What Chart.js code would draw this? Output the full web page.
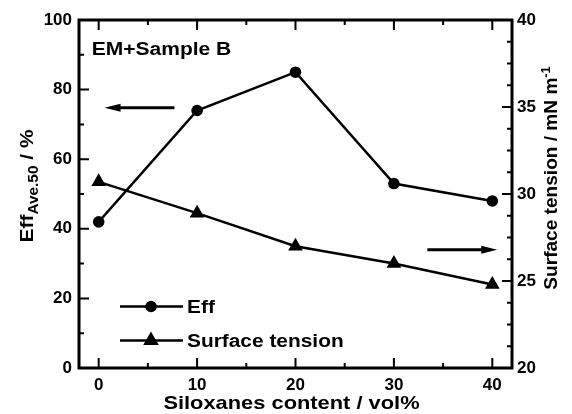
<!DOCTYPE html>
<html>
<head>
<meta charset="utf-8">
<script src="https://cdn.jsdelivr.net/npm/chart.js@4/dist/chart.umd.min.js"></script>
<style>
  body { margin: 0; background: #fff; }
  canvas { display: block; }
</style>
</head>
<body>
<canvas id="chart" width="572" height="414"></canvas>
<script>
// Siloxanes content (vol%) and the two measured series
const content = [0, 10, 20, 30, 40];
const effAve50 = [42, 74, 85, 53, 48];
const surfaceTension = [30.7, 28.9, 27.0, 26.0, 24.8];

// tick values for the three axes
const xTicks = [0, 10, 20, 30, 40];
const xMinor = [5, 15, 25, 35];
const effTicks = [0, 20, 40, 60, 80, 100];
const effMinor = [10, 30, 50, 70, 90];
const tensionTicks = [20, 25, 30, 35, 40];
const tensionMinor = [21.25, 22.5, 23.75, 26.25, 27.5, 28.75, 31.25, 32.5, 33.75, 36.25, 37.5, 38.75];

const FONT = 'Arial, "Liberation Sans", sans-serif';

// draw a row of text runs (for sub/superscripts), optionally rotated and widened
function drawRuns(ctx, runs, x, y, angle, sx, align) {
  ctx.save();
  ctx.translate(x, y);
  ctx.rotate(angle);
  ctx.scale(sx, 1);
  ctx.fillStyle = '#000';
  ctx.textBaseline = 'alphabetic';
  ctx.textAlign = 'left';
  let total = 0;
  runs.forEach(r => {
    ctx.font = 'bold ' + r.size + 'px ' + FONT;
    r.w = ctx.measureText(r.text).width;
    total += r.w;
  });
  let cx = align === 'center' ? -total / 2 : 0;
  runs.forEach(r => {
    ctx.font = 'bold ' + r.size + 'px ' + FONT;
    ctx.fillText(r.text, cx, r.dy || 0);
    cx += r.w;
  });
  ctx.restore();
}

function arrow(ctx, x1, y1, x2, y2) {
  const dir = Math.sign(x2 - x1);
  ctx.beginPath();
  ctx.moveTo(x1, y1);
  ctx.lineTo(x2 - dir * 10, y2);
  ctx.stroke();
  ctx.beginPath();
  ctx.moveTo(x2, y2);
  ctx.lineTo(x2 - dir * 16, y2 - 4);
  ctx.lineTo(x2 - dir * 16, y2 + 4);
  ctx.closePath();
  ctx.fill();
}

const framePlugin = {
  id: 'frame',
  beforeDatasetsDraw(chart) {
    const ctx = chart.ctx;
    const a = chart.chartArea;
    const sx = chart.scales.x, sy = chart.scales.y, sy2 = chart.scales.y2;
    ctx.save();
    ctx.strokeStyle = '#000';
    ctx.lineWidth = 3;
    ctx.strokeRect(a.left, a.top, a.right - a.left, a.bottom - a.top);
    ctx.lineWidth = 2;
    ctx.beginPath();
    // inward ticks, bottom and top
    const xt = (v, len) => {
      const p = sx.getPixelForValue(v);
      ctx.moveTo(p, a.bottom); ctx.lineTo(p, a.bottom - len);
      ctx.moveTo(p, a.top); ctx.lineTo(p, a.top + len);
    };
    xTicks.forEach(v => xt(v, 10));
    xMinor.forEach(v => xt(v, 5));
    // left axis
    const yt = (v, len) => {
      const p = sy.getPixelForValue(v);
      ctx.moveTo(a.left, p); ctx.lineTo(a.left + len, p);
    };
    effTicks.forEach(v => yt(v, 10));
    effMinor.forEach(v => yt(v, 5));
    // right axis
    const y2t = (v, len) => {
      const p = sy2.getPixelForValue(v);
      ctx.moveTo(a.right, p); ctx.lineTo(a.right - len, p);
    };
    tensionTicks.forEach(v => y2t(v, 10));
    tensionMinor.forEach(v => y2t(v, 5));
    ctx.stroke();
    ctx.restore();
  },
  afterDraw(chart) {
    const ctx = chart.ctx;
    const a = chart.chartArea;
    const sx = chart.scales.x, sy = chart.scales.y, sy2 = chart.scales.y2;
    ctx.save();
    ctx.strokeStyle = '#000';
    ctx.fillStyle = '#000';
    ctx.lineWidth = 3;

    // arrows pointing to each series' axis
    arrow(ctx, sx.getPixelForValue(7.7), sy.getPixelForValue(74.8),
               sx.getPixelForValue(0.6), sy.getPixelForValue(74.8));
    arrow(ctx, sx.getPixelForValue(33.4), sy2.getPixelForValue(26.8),
               sx.getPixelForValue(40.5), sy2.getPixelForValue(26.8));

    // sample label
    drawRuns(ctx, [{ text: 'EM+Sample B', size: 17.5 }],
      sx.getPixelForValue(-0.7), sy.getPixelForValue(90), 0, 1.2, 'left');

    // legend
    const items = [
      { label: 'Eff', style: 'circle', r: 4.5, y: a.bottom - 61.5 },
      { label: 'Surface tension', style: 'triangle', r: 6.5, y: a.bottom - 27.5 }
    ];
    items.forEach(it => {
      ctx.lineWidth = 2.5;
      ctx.beginPath();
      ctx.moveTo(a.left + 41, it.y);
      ctx.lineTo(a.left + 104, it.y);
      ctx.stroke();
      Chart.helpers.drawPoint(ctx, { pointStyle: it.style, radius: it.r, borderWidth: 1 },
        a.left + 72, it.y);
      ctx.fill();
      drawRuns(ctx, [{ text: it.label, size: 18 }], a.left + 108, it.y + 6.5, 0, 1.16, 'left');
    });

    // axis titles
    drawRuns(ctx, [{ text: 'Siloxanes content / vol%', size: 19 }],
      (a.left + a.right) / 2 - 4, 409, 0, 1.15, 'center');
    drawRuns(ctx, [
      { text: 'Eff', size: 19 },
      { text: 'Ave.50', size: 14, dy: 5 },
      { text: ' / %', size: 19 }
    ], 33, 186, -Math.PI / 2, 1.1, 'center');
    drawRuns(ctx, [
      { text: 'Surface tension / mN m', size: 18 },
      { text: '-1', size: 12, dy: -7.5 }
    ], 557, 178, -Math.PI / 2, 1.06, 'center');
    ctx.restore();
  }
};

const tickFont = { family: FONT, size: 17, weight: 'bold' };
const noGrid = { display: false, drawTicks: false };

new Chart(document.getElementById('chart'), {
  type: 'line',
  data: {
    datasets: [
      {
        label: 'Eff',
        data: content.map((x, i) => ({ x: x, y: effAve50[i] })),
        yAxisID: 'y',
        borderColor: '#000',
        backgroundColor: '#000',
        borderWidth: 2.5,
        pointStyle: 'circle',
        pointRadius: 5.8,
        pointBorderWidth: 0,
        tension: 0
      },
      {
        label: 'Surface tension',
        data: content.map((x, i) => ({ x: x, y: surfaceTension[i] })),
        yAxisID: 'y2',
        borderColor: '#000',
        backgroundColor: '#000',
        borderWidth: 2.5,
        pointStyle: 'triangle',
        pointRadius: 8.5,
        pointBorderWidth: 0,
        tension: 0
      }
    ]
  },
  options: {
    responsive: false,
    animation: false,
    layout: { padding: { top: 20 } },
    plugins: {
      legend: { display: false },
      tooltip: { enabled: false }
    },
    scales: {
      x: {
        type: 'linear',
        min: -2,
        max: 42,
        grid: noGrid,
        border: { display: false },
        afterBuildTicks: s => { s.ticks = xTicks.map(v => ({ value: v })); },
        afterFit: s => { s.height = 46; },
        ticks: { color: '#000', font: tickFont, padding: 7, maxRotation: 0 }
      },
      y: {
        position: 'left',
        min: 0,
        max: 100,
        grid: noGrid,
        border: { display: false },
        afterBuildTicks: s => { s.ticks = effTicks.map(v => ({ value: v })); },
        afterFit: s => { s.width = 79; },
        ticks: { color: '#000', font: tickFont, padding: 7 }
      },
      y2: {
        position: 'right',
        min: 20,
        max: 40,
        grid: noGrid,
        border: { display: false },
        afterBuildTicks: s => { s.ticks = tensionTicks.map(v => ({ value: v })); },
        afterFit: s => { s.width = 60; },
        ticks: { color: '#000', font: tickFont, padding: 5 }
      }
    }
  },
  plugins: [framePlugin]
});
</script>
</body>
</html>
